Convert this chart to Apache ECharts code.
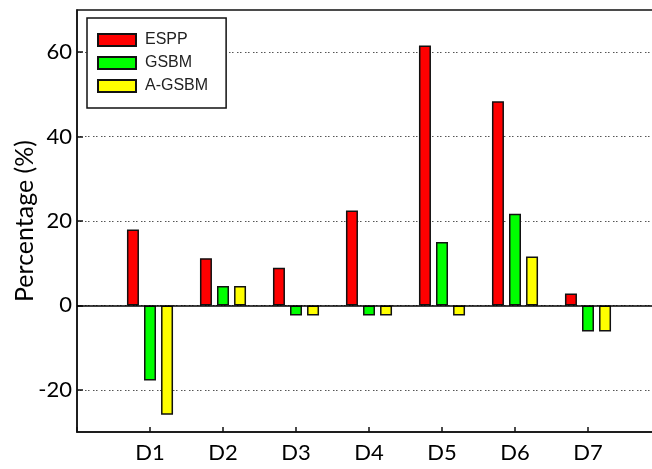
<!DOCTYPE html>
<html>
<head>
<meta charset="utf-8">
<script src="https://cdn.jsdelivr.net/npm/echarts@6/dist/echarts.min.js"></script>
<style>
  html, body { margin: 0; padding: 0; background: #fff; }
  #chart { width: 652px; height: 469px; }
</style>
</head>
<body>
<div id="chart"></div>
<script>
// Method comparison per dataset (percentage change)
const categories = ['D1', 'D2', 'D3', 'D4', 'D5', 'D6', 'D7'];
const seriesNames = ['ESPP', 'GSBM', 'A-GSBM'];
const esppValues  = [18.0, 11.2, 8.9, 22.5, 61.6, 48.4, 2.8];
const gsbmValues  = [-17.8, 4.6, -2.4, -2.4, 15.0, 21.7, -6.2];
const agsbmValues = [-25.9, 4.6, -2.4, -2.4, -2.4, 11.6, -6.2];
const yTicks = [-20, 0, 20, 40, 60];

const seriesColors = ['#ff0000', '#00ff00', '#ffff00'];
const axisFont = 'Lato, "Open Sans", sans-serif';

// padded category axis: empty slot at each end so the groups sit one step in from the frame
const axisData = [''].concat(categories, ['']);

function makeBar(name, values, color, withZeroLine) {
  const s = {
    name: name,
    type: 'bar',
    barWidth: 12,
    barGap: '42%',
    data: values.map((v, i) => [categories[i], v]),
    itemStyle: { color: color, borderColor: '#111', borderWidth: 1.5 },
    emphasis: { disabled: true }
  };
  if (withZeroLine) {
    s.markLine = {
      silent: true,
      symbol: 'none',
      label: { show: false },
      lineStyle: { color: '#000', width: 1.5, type: 'solid' },
      data: [{ yAxis: 0 }]
    };
  }
  return s;
}

const chart = echarts.init(document.getElementById('chart'), null, { renderer: 'canvas' });
chart.setOption({
  animation: false,
  backgroundColor: '#fff',
  grid: {
    left: 77, top: 10, bottom: 37, right: -9,
    outerBoundsMode: 'none',
    containLabel: false,
    show: true, borderColor: '#111', borderWidth: 1.5, backgroundColor: 'transparent'
  },
  legend: {
    orient: 'vertical',
    left: 87, top: 18,
    backgroundColor: '#fff',
    borderColor: '#111', borderWidth: 1.5, borderRadius: 0,
    padding: [14, 18, 14, 10],
    itemWidth: 38, itemHeight: 12, itemGap: 7,
    icon: 'rect',
    textStyle: { fontFamily: '"Liberation Sans", Arial, sans-serif', fontSize: 16, lineHeight: 16, color: '#222', padding: [0, 0, 0, 4] },
    data: seriesNames
  },
  xAxis: {
    type: 'category',
    data: axisData,
    boundaryGap: false,
    axisLine: { onZero: false, lineStyle: { color: '#111', width: 1.5 } },
    axisTick: { inside: true, length: 5, lineStyle: { color: '#111', width: 1.5 } },
    axisLabel: { fontFamily: axisFont, fontSize: 22, color: '#000', margin: 10, interval: 0 },
    splitLine: { show: false }
  },
  yAxis: {
    type: 'value',
    min: -30, max: 70, interval: 10,
    name: 'Percentage (%)',
    nameLocation: 'middle',
    nameRotate: 90,
    nameGap: 40,
    nameMoveOverlap: false,
    nameTextStyle: { fontFamily: axisFont, fontSize: 25, color: '#000' },
    axisLine: { show: true, lineStyle: { color: '#111', width: 1.5 } },
    axisTick: { show: true, inside: true, length: 6, customValues: yTicks, lineStyle: { color: '#111', width: 1.5 } },
    axisLabel: { fontFamily: axisFont, fontSize: 22, color: '#000', margin: 5, customValues: yTicks },
    splitLine: { show: true, lineStyle: { color: '#555', width: 1, type: [1.5, 1.5, 1.5, 3.5] } }
  },
  series: [
    makeBar(seriesNames[0], esppValues, seriesColors[0], true),
    makeBar(seriesNames[1], gsbmValues, seriesColors[1], false),
    makeBar(seriesNames[2], agsbmValues, seriesColors[2], false)
  ]
});
</script>
</body>
</html>
